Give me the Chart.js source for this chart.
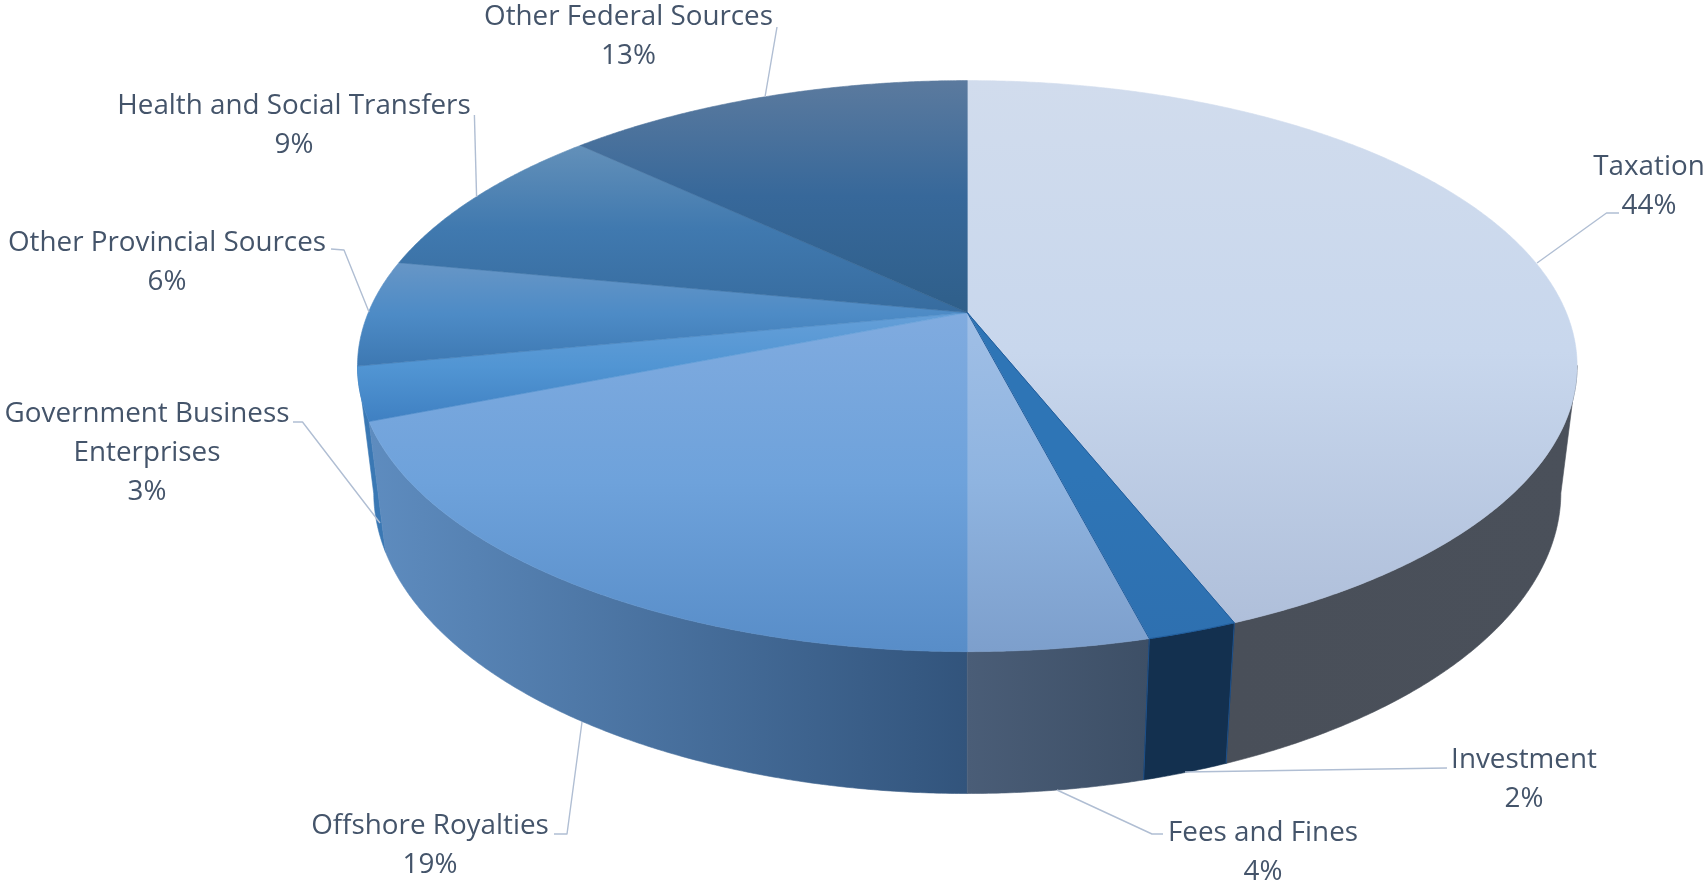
<!DOCTYPE html>
<html>
<head>
<meta charset="utf-8">
<style>html,body{margin:0;padding:0;background:#fff;overflow:hidden}canvas{display:block}</style>
<script src="https://cdn.jsdelivr.net/npm/chart.js@4"></script>
</head>
<body>
<canvas id="c" width="1706" height="880"></canvas>
<script>
const categories = ["Taxation","Investment","Fees and Fines","Offshore Royalties","Government Business Enterprises","Other Provincial Sources","Health and Social Transfers","Other Federal Sources"];
const values = [44,2,4,19,3,6,9,13];

// Face colours, per slice: top face (vertical stops), side wall (left to right)
const topStops = [
  ["#D1DCED","#C8D7ED","#AFBFDA"],
  ["#2E75B6","#2E75B6","#2E70B0"],
  ["#A0BFE6","#8FB4E0","#7D9FCC"],
  ["#80ABDF","#6EA2DB","#588DC8"],
  ["#659FD8","#5195D3","#3F80C2"],
  ["#6796C6","#4D8BC6","#3D78B2"],
  ["#6390B9","#4079AF","#376C9F"],
  ["#5B7A9E","#37689A","#2F5F8A"]
];
const sideStops = [
  ["#494F59","#4A505A"],
  ["#13304F","#13304F"],
  ["#4A5D77","#3D4F66"],
  ["#5E8CBF","#32547C"],
  ["#3A78B4","#3A78B4"],
  ["#3A6FA5","#3A6FA5"],
  ["#35689A","#35689A"],
  ["#2F5F8A","#2F5F8A"]
];
const sliceEdge = [null,"#1F5C9C",null,null,null,null,null,null];
const sideEdge  = [null,"#1B4F8A",null,null,null,null,null,null];
const sideOrder = [4,3,0,2,1];

// Perspective of the disc; the wall is visible where sin(angle) >= foldY
const view = {cx:967.3, cy:312.6, b:599, a:275.5, c:128, k:-0.1874, m:0.0264, foldY:0.185};
function project(X,Y,Z){
  const w = 1 + view.k*Y + view.m*Z;
  return [view.cx + view.b*X/w, view.cy + (view.a*Y + view.c*Z)/w];
}
function arcPoints(a0,a1,Z){
  const n = Math.max(4, Math.ceil((a1-a0)/0.006));
  const pts = [];
  for(let i=0;i<=n;i++){
    const t = a0 + (a1-a0)*i/n;
    pts.push(project(Math.cos(t),Math.sin(t),Z));
  }
  return pts;
}
function tracePoly(ctx,pts){
  ctx.beginPath();
  pts.forEach((p,i)=> i?ctx.lineTo(p[0],p[1]):ctx.moveTo(p[0],p[1]));
  ctx.closePath();
}
function grad(ctx,x0,y0,x1,y1,stops){
  const g = ctx.createLinearGradient(x0,y0,x1,y1);
  stops.forEach((s,i)=> g.addColorStop(i/(stops.length-1),s));
  return g;
}
function wall(ctx,a0,a1,i){
  const lo = Math.asin(view.foldY), hi = Math.PI - lo;
  const p = Math.max(a0,lo), q = Math.min(a1,hi);
  if(q <= p) return;
  const pts = arcPoints(p,q,0).concat(arcPoints(p,q,1).reverse());
  const xs = pts.map(v=>v[0]);
  const g = grad(ctx,Math.min(...xs),0,Math.max(...xs),0,sideStops[i]);
  tracePoly(ctx,pts);
  ctx.fillStyle = g; ctx.fill();
  ctx.strokeStyle = g; ctx.lineWidth = 0.6; ctx.stroke();
  if(sideEdge[i]){
    ctx.strokeStyle = sideEdge[i]; ctx.lineWidth = 1;
    [p,q].forEach(t=>{
      const u = project(Math.cos(t),Math.sin(t),0), v = project(Math.cos(t),Math.sin(t),1);
      ctx.beginPath(); ctx.moveTo(u[0],u[1]); ctx.lineTo(v[0],v[1]); ctx.stroke();
    });
  }
}

const disc3d = {
  id:'disc3d',
  beforeDatasetDraw(chart,args){
    const ctx = chart.ctx, arcs = chart.getDatasetMeta(args.index).data;
    ctx.save();
    ctx.lineJoin = 'round';
    sideOrder.forEach(i=> wall(ctx,arcs[i].startAngle,arcs[i].endAngle,i));
    arcs.forEach((el,i)=>{
      const rim = arcPoints(el.startAngle,el.endAngle,0);
      const pts = [project(0,0,0)].concat(rim);
      const ys = pts.map(p=>p[1]);
      const g = grad(ctx,0,Math.min(...ys),0,Math.max(...ys),topStops[i]);
      tracePoly(ctx,pts);
      ctx.fillStyle = g; ctx.fill();
      ctx.strokeStyle = g; ctx.lineWidth = 0.6; ctx.stroke();
    });
    arcs.forEach((el,i)=>{
      if(!sliceEdge[i]) return;
      const pts = [project(0,0,0)].concat(arcPoints(el.startAngle,el.endAngle,0));
      tracePoly(ctx,pts);
      ctx.strokeStyle = sliceEdge[i]; ctx.lineWidth = 1; ctx.stroke();
    });
    ctx.restore();
    return false;
  }
};

// Label text lines, centre x, first baseline; leader polylines
const labelLines = [["Taxation"],["Investment"],["Fees and Fines"],["Offshore Royalties"],["Government Business","Enterprises"],["Other Provincial Sources"],["Health and Social Transfers"],["Other Federal Sources"]];
const labelX = [1649,1524,1263,430,147,167,294,628.5];
const labelY = [175,768,841,834,422,251,114,25];
const leaders = [
  [[1537,263],[1606.5,213],[1619,213]],
  [[1185,772],[1447,768]],
  [[1057,790],[1152,834],[1163,834]],
  [[582,722],[567,834],[554,834]],
  [[380,523],[302.5,422],[293,422]],
  [[369,312],[344,250],[331,249]],
  [[476.6,197],[474.4,115]],
  [[765,97],[777,27]]
];
const labelFont = '27.8px "Open Sans"';
const labelColor = '#44546A';
const lineStep = 38.8;

const pieLabels = {
  id:'pieLabels',
  afterDatasetsDraw(chart){
    const ctx = chart.ctx;
    const total = values.reduce((s,v)=>s+v,0);
    ctx.save();
    ctx.strokeStyle = '#B0BED3'; ctx.lineWidth = 1.4; ctx.lineJoin='round';
    leaders.forEach(l=>{
      ctx.beginPath();
      l.forEach((p,i)=> i?ctx.lineTo(p[0],p[1]):ctx.moveTo(p[0],p[1]));
      ctx.stroke();
    });
    ctx.font = labelFont; ctx.fillStyle = labelColor;
    ctx.textAlign='center'; ctx.textBaseline='alphabetic';
    categories.forEach((_,i)=>{
      const lines = labelLines[i].concat([Math.round(values[i]/total*100)+'%']);
      lines.forEach((s,j)=> ctx.fillText(s,labelX[i],labelY[i]+j*lineStep));
    });
    ctx.restore();
  }
};

new Chart(document.getElementById('c'),{
  type:'pie',
  data:{labels:categories,datasets:[{data:values,backgroundColor:topStops.map(s=>s[1]),borderWidth:0}]},
  options:{
    responsive:false,animation:false,
    plugins:{legend:{display:false},tooltip:{enabled:false},title:{display:false}}
  },
  plugins:[disc3d,pieLabels]
});
</script>
</body>
</html>
